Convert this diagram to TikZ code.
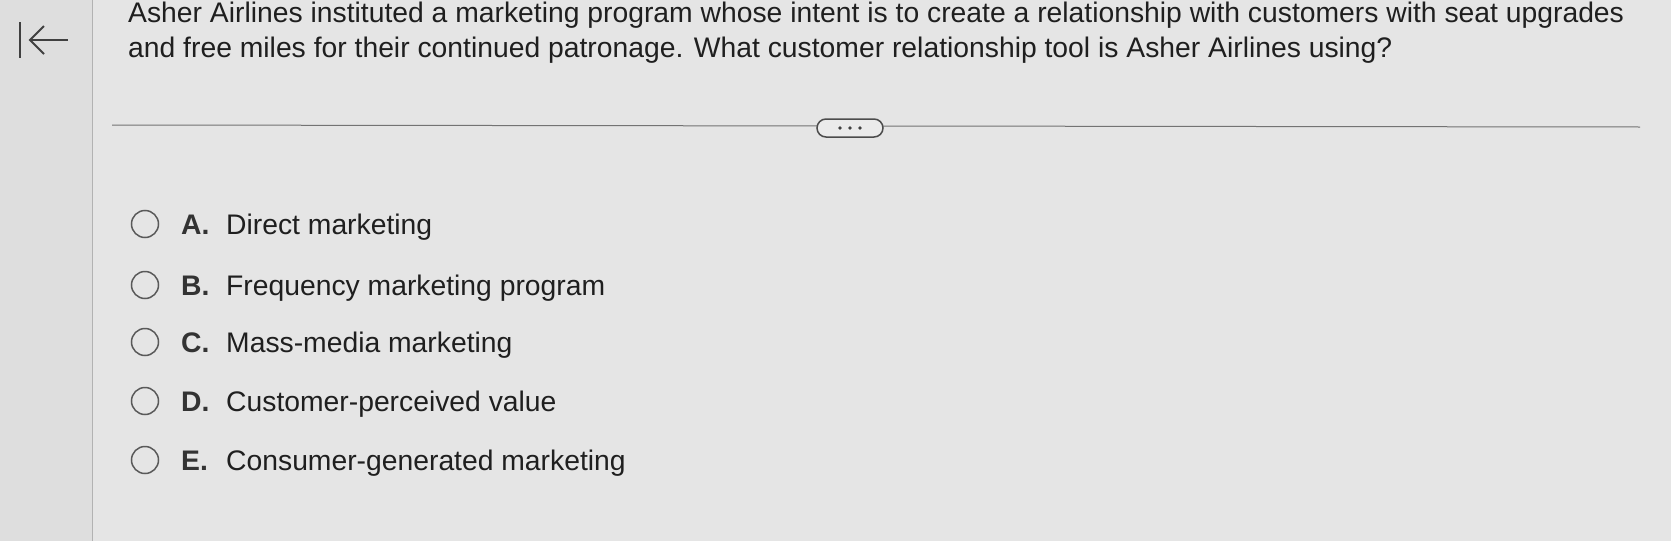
\documentclass[tikz,border=0pt]{standalone}
\usepackage{fontspec}
\setmainfont{Liberation Sans}
\begin{document}
\begin{tikzpicture}[x=1pt,y=-1pt,
  txt/.style={anchor=base west,inner sep=0,font=\fontsize{28.3}{34}\selectfont,text=black!88},
  opt/.style={circle,draw=black!65,line width=1.5pt,minimum size=27pt,inner sep=0},
  lett/.style={anchor=base west,inner sep=0,font=\fontsize{28.3}{34}\selectfont\bfseries,text=black!80}]
\useasboundingbox (0,0) rectangle (1671,541);
\fill[black!10] (0,0) rectangle (1671,541);
\fill[black!13] (0,0) rectangle (92,541);
\draw[black!30,line width=1pt] (92,0) -- (92,541);
% back icon
\draw[black!75,line width=2pt] (20,22) -- (20,58);
\draw[black!75,line width=2pt] (30,40) -- (68,40);
\draw[black!75,line width=2pt] (44,26) -- (30,40) -- (44,54);
\node[txt] (q1) at (128,22) {Asher Airlines instituted a marketing program whose intent is to create a relationship with customers with seat upgrades};
\node[txt] (q2) at (128,57) {and free miles for their continued patronage. What customer relationship tool is Asher Airlines using?};
\draw[black!55,line width=1pt] (112,125) -- (1640,127);
\node[draw=black!70,fill=black!8,rounded corners=9pt,line width=1.5pt,minimum width=66pt,minimum height=18pt,inner sep=0] (dots) at (850,128) {};
\foreach \dx in {-10,0,10} \fill[black!75] (850+\dx,128) circle (1.8pt);
\foreach \y/\l/\t [count=\i] in {234/A./Direct marketing,295/B./Frequency marketing program,352/C./Mass-media marketing,411/D./Customer-perceived value,470/E./Consumer-generated marketing}{
  \node[opt] (c\i) at (145,\y-10) {};
  \node[lett] (l\i) at (181,\y) {\l};
  \node[txt] (t\i) at (226,\y) {\t};
}
\end{tikzpicture}
\end{document}
